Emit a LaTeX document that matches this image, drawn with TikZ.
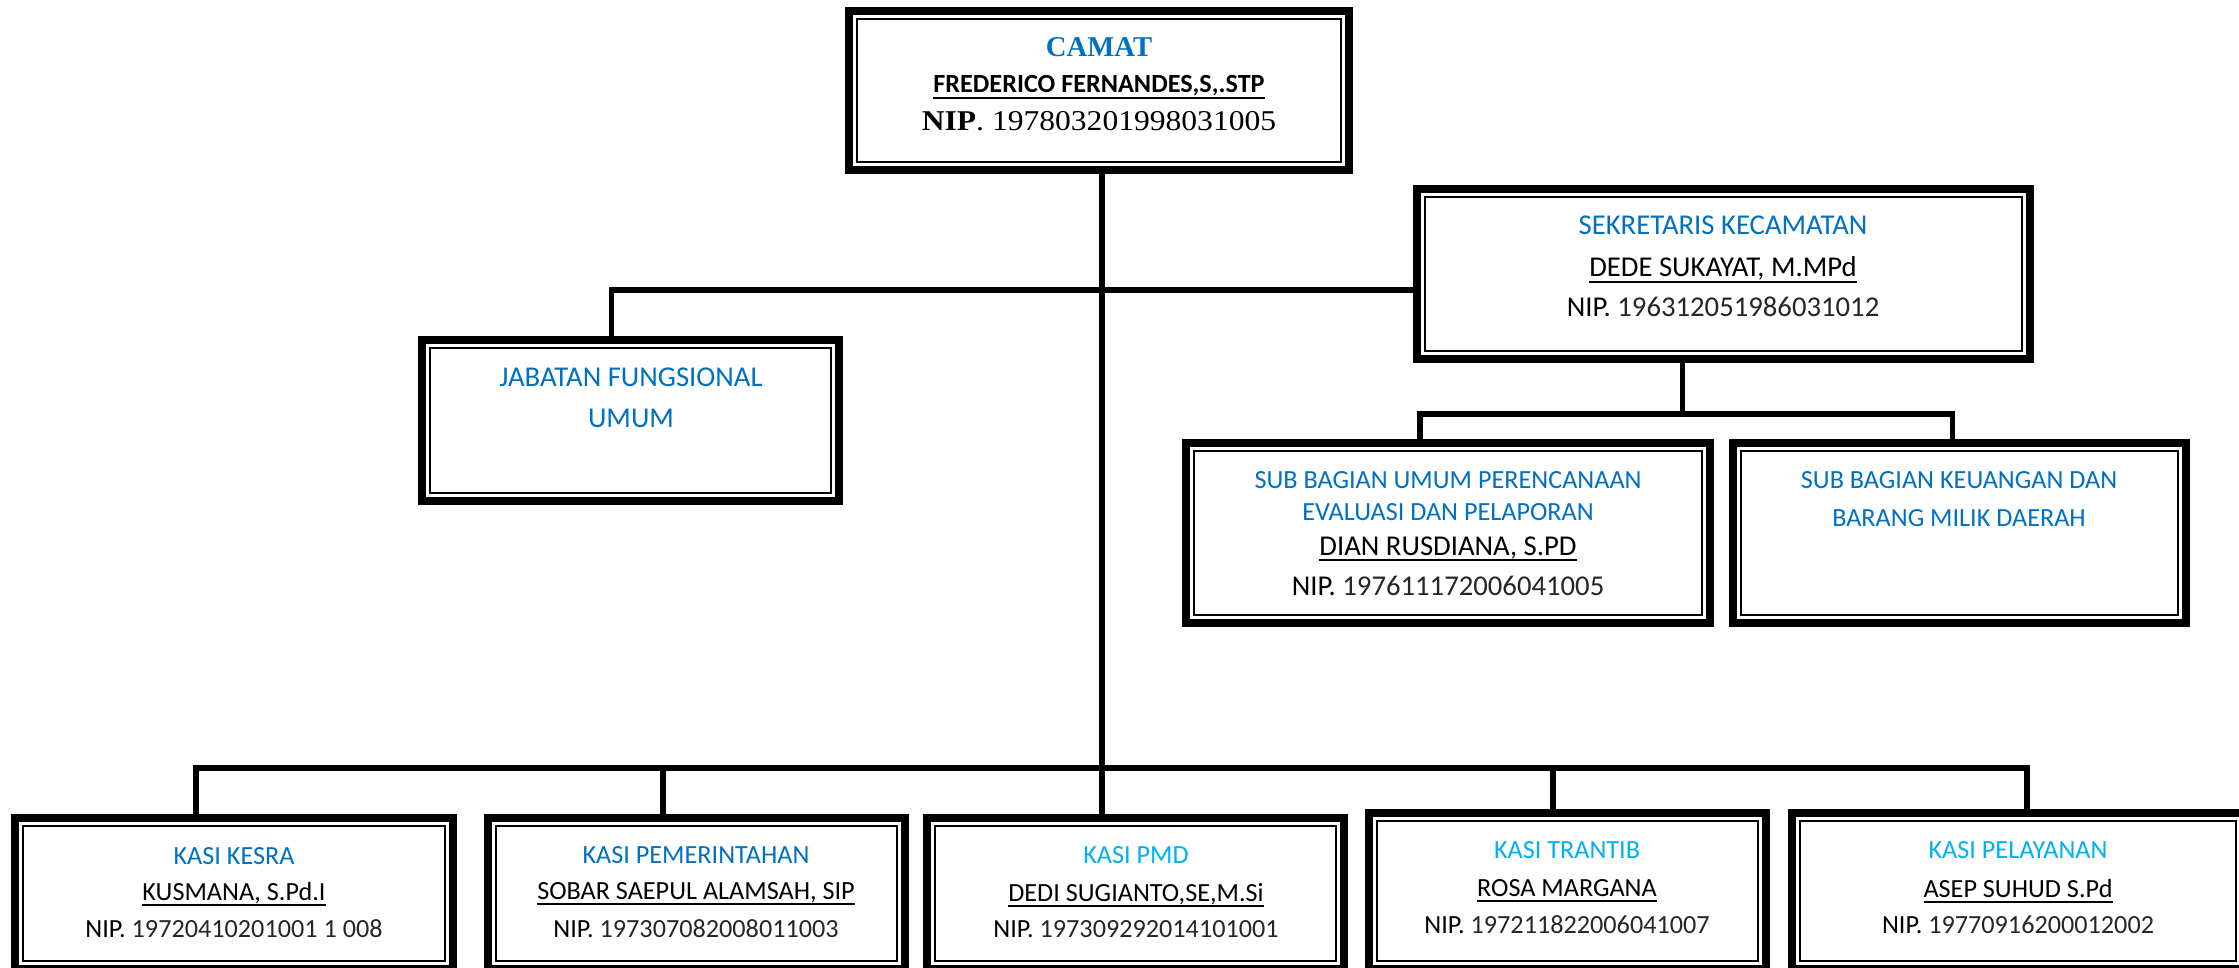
\documentclass[tikz,border=0pt]{standalone}
\usepackage{fontspec}
\setmainfont{Carlito}
\newfontfamily\cambria{Liberation Serif}
\newfontfamily\cambriaw[FakeStretch=1.1]{Liberation Serif}
\definecolor{tblue}{HTML}{0070C0}
\definecolor{lblue}{HTML}{00B0F0}
\definecolor{numgray}{HTML}{262626}
\newcommand\ulname[1]{\setbox0=\hbox{#1}\rlap{\rule[-6pt]{\wd0}{1.8pt}}\box0}
\newcommand\nipnum[1]{NIP. {\color{numgray}#1}}
\tikzset{
  orgbox/.style={draw=black, line width=8pt, inner sep=0pt, outer sep=0pt, fill=white},
  innerline/.style={draw=black, line width=1.6pt},
  conn/.style={draw=black, line width=5.5pt},
  txt/.style={anchor=base, inner sep=0pt, outer sep=0pt},
  small/.style={font=\fontsize{26.2}{30}\selectfont},
  large/.style={font=\fontsize{28.7}{32}\selectfont},
}
\begin{document}
\begin{tikzpicture}[x=1pt, y=-1pt]
\useasboundingbox (0,0) rectangle (2239,968);
\coordinate (bus) at (0,768);
\coordinate (subbus) at (0,414);

\node[orgbox, minimum width=500pt, minimum height=159pt] (camat) at (1099,90.5) {};
\node[orgbox, minimum width=613pt, minimum height=170pt] (sek) at (1723.5,274) {};
\node[orgbox, minimum width=417pt, minimum height=161pt] (jab) at (630.5,420.5) {};
\node[orgbox, minimum width=524pt, minimum height=180pt] (sub1) at (1448,533) {};
\node[orgbox, minimum width=453pt, minimum height=180pt] (sub2) at (1959.5,533) {};
\node[orgbox, minimum width=438pt, minimum height=151pt] (kesra) at (234,893.5) {};
\node[orgbox, minimum width=417pt, minimum height=151pt] (pem) at (696.5,893.5) {};
\node[orgbox, minimum width=417pt, minimum height=151pt] (pmd) at (1135.5,893.5) {};
\node[orgbox, minimum width=397pt, minimum height=156pt] (trantib) at (1567.5,891) {};
\node[orgbox, minimum width=452pt, minimum height=156pt] (pel) at (2018,891) {};

\foreach \n in {camat,sek,jab,sub1,sub2,kesra,pem,pmd,trantib,pel}
  \draw[innerline] ([shift={(8pt,-8pt)}]\n.north west) rectangle ([shift={(-8pt,8pt)}]\n.south east);

\draw[conn] ([xshift=3pt]camat.south) -- ([xshift=3pt]camat.south |- pmd.north);
\draw[conn] ([xshift=-19pt]jab.north) |- ([yshift=-16pt]sek.west);
\draw[conn] ([xshift=-41pt]sek.south) -- ([xshift=-41pt]sek.south |- subbus);
\draw[conn] ([xshift=-28pt]sub1.north) |- ([xshift=-7pt]sub2.north |- subbus) -- ([xshift=-7pt]sub2.north);
\draw[conn] ([xshift=-38pt]kesra.north) |- ([xshift=9pt]pel.north |- bus) -- ([xshift=9pt]pel.north);
\draw[conn] ([xshift=-33.5pt]pem.north) -- ([xshift=-33.5pt]pem.north |- bus);
\draw[conn] ([xshift=-14.5pt]trantib.north) -- ([xshift=-14.5pt]trantib.north |- bus);

% CAMAT
\node[txt, text=tblue] (camat-t) at (1099,57) {\fontsize{28.7}{30}\selectfont\cambria\bfseries CAMAT};
\node[txt, small] (camat-n) at (1099,93) {\bfseries\ulname{FREDERICO FERNANDES,S,.STP}};
\node[txt] (camat-p) at (1099,131) {\fontsize{28.7}{30}\selectfont\cambriaw\textbf{NIP}. 197803201998031005};

% SEKRETARIS
\node[txt, large, text=tblue] (sek-t) at (1723,235) {SEKRETARIS KECAMATAN};
\node[txt, large] (sek-n) at (1723,277) {\ulname{DEDE SUKAYAT, M.MPd}};
\node[txt, large] (sek-p) at (1723,317) {\nipnum{196312051986031012}};

% JABATAN
\node[txt, large, text=tblue] (jab-t1) at (631,387) {JABATAN FUNGSIONAL};
\node[txt, large, text=tblue] (jab-t2) at (631,427) {UMUM};

% SUB BAGIAN 1
\node[txt, small, text=tblue] (sub1-t1) at (1448,488) {SUB BAGIAN UMUM PERENCANAAN};
\node[txt, small, text=tblue] (sub1-t2) at (1448,520) {EVALUASI DAN PELAPORAN};
\node[txt, large] (sub1-n) at (1448,555) {\ulname{DIAN RUSDIANA, S.PD}};
\node[txt, large] (sub1-p) at (1448,595) {\nipnum{197611172006041005}};

% SUB BAGIAN 2
\node[txt, small, text=tblue] (sub2-t1) at (1959,488) {SUB BAGIAN KEUANGAN DAN};
\node[txt, small, text=tblue] (sub2-t2) at (1959,526) {BARANG MILIK DAERAH};

% KASI boxes
\node[txt, small, text=tblue] (kesra-t) at (234,864) {KASI KESRA};
\node[txt, small] (kesra-n) at (234,900) {\ulname{KUSMANA, S.Pd.I}};
\node[txt, small] (kesra-p) at (234,937) {\nipnum{19720410201001 1 008}};

\node[txt, small, text=tblue] (pem-t) at (696,863) {KASI PEMERINTAHAN};
\node[txt, small] (pem-n) at (696,899) {\ulname{SOBAR SAEPUL ALAMSAH, SIP}};
\node[txt, small] (pem-p) at (696,937) {\nipnum{197307082008011003}};

\node[txt, small, text=lblue] (pmd-t) at (1136,863) {KASI PMD};
\node[txt, small] (pmd-n) at (1136,901) {\ulname{DEDI SUGIANTO,SE,M.Si}};
\node[txt, small] (pmd-p) at (1136,937) {\nipnum{197309292014101001}};

\node[txt, small, text=lblue] (trantib-t) at (1567,858) {KASI TRANTIB};
\node[txt, small] (trantib-n) at (1567,896) {\ulname{ROSA MARGANA}};
\node[txt, small] (trantib-p) at (1567,933) {\nipnum{197211822006041007}};

\node[txt, small, text=lblue] (pel-t) at (2018,858) {KASI PELAYANAN};
\node[txt, small] (pel-n) at (2018,897) {\ulname{ASEP SUHUD S.Pd}};
\node[txt, small] (pel-p) at (2018,933) {\nipnum{19770916200012002}};
\end{tikzpicture}
\end{document}
